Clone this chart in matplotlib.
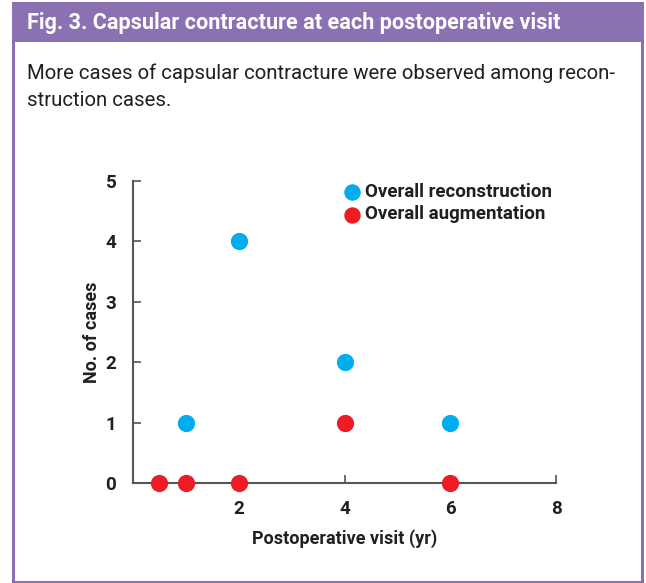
import matplotlib.pyplot as plt
from matplotlib.patches import Rectangle

# data
recon_x = [1, 2, 4, 6]
recon_y = [1, 4, 2, 1]
aug_x = [0.5, 1, 2, 4, 6]
aug_y = [0, 0, 0, 1, 0]
xticks = [2, 4, 6, 8]
yticks = [0, 1, 2, 3, 4, 5]

purple = '#8a72b2'
blue = '#00aeef'
red = '#ed1c24'
dark = '#231f20'
spine = '#555555'

plt.rcParams['font.family'] = ['Roboto', 'DejaVu Sans']

W, H = 646, 583
fig = plt.figure(figsize=(W / 100, H / 100), dpi=100)


def fit_width(txt, target_px):
    # shrink a text until it spans the same width as in the reference
    r = fig.canvas.get_renderer()
    w = txt.get_window_extent(r).width
    txt.set_fontsize(txt.get_fontsize() * target_px / w)


# frame and header bar
fig.patches.append(Rectangle((13 / W, 1 - 582 / H), 629 / W, 579 / H, transform=fig.transFigure,
                             facecolor='none', edgecolor=purple, linewidth=2.2, zorder=-2))
fig.patches.append(Rectangle((13 / W, 1 - 42 / H), 629 / W, 39 / H, transform=fig.transFigure,
                             facecolor=purple, edgecolor='none', zorder=-1))
t1 = fig.text(27 / W, 1 - 23 / H, 'Fig. 3. Capsular contracture at each postoperative visit',
              color='white', fontsize=15, fontweight='bold', va='center', ha='left')
t2 = fig.text(27 / W, 1 - 73 / H, 'More cases of capsular contracture were observed among recon-',
              color=dark, fontsize=14, va='center', ha='left')
t3 = fig.text(27 / W, 1 - 101 / H, 'struction cases.',
              color=dark, fontsize=14, va='center', ha='left')
fit_width(t1, 535)
fit_width(t2, 595)
t3.set_fontsize(t2.get_fontsize())

ax = fig.add_axes([133 / W, 1 - 483 / H, 423 / W, 302 / H])
ax.scatter(recon_x, recon_y, s=130, color=blue, zorder=3, clip_on=False, label='Overall reconstruction')
ax.scatter(aug_x, aug_y, s=130, color=red, zorder=3, clip_on=False, label='Overall augmentation')

ax.set_xlim(0, 8)
ax.set_ylim(0, 5)
ax.set_xticks(xticks)
ax.set_yticks(yticks)
ax.tick_params(direction='in', length=6, width=1.2, colors=spine, labelcolor=dark, labelsize=13.5, pad=12)
for lab in ax.get_xticklabels() + ax.get_yticklabels():
    lab.set_fontweight('bold')
for s in ['top', 'right']:
    ax.spines[s].set_visible(False)
for s in ['left', 'bottom']:
    ax.spines[s].set_color(spine)
    ax.spines[s].set_linewidth(1.5)

ax.set_xlabel('Postoperative visit (yr)', fontsize=13, fontweight='bold', color=dark, labelpad=8)
ax.set_ylabel('No. of cases', fontsize=13, fontweight='bold', color=dark, labelpad=3)

leg = ax.legend(loc='upper left', bbox_to_anchor=(0.46, 1.05), frameon=False, fontsize=13.5,
                handlelength=0.8, handletextpad=0.3, labelspacing=0.25, markerscale=0.95)
for t in leg.get_texts():
    t.set_fontweight('bold')
    t.set_color(dark)

fig.savefig('out.png', dpi=100)
